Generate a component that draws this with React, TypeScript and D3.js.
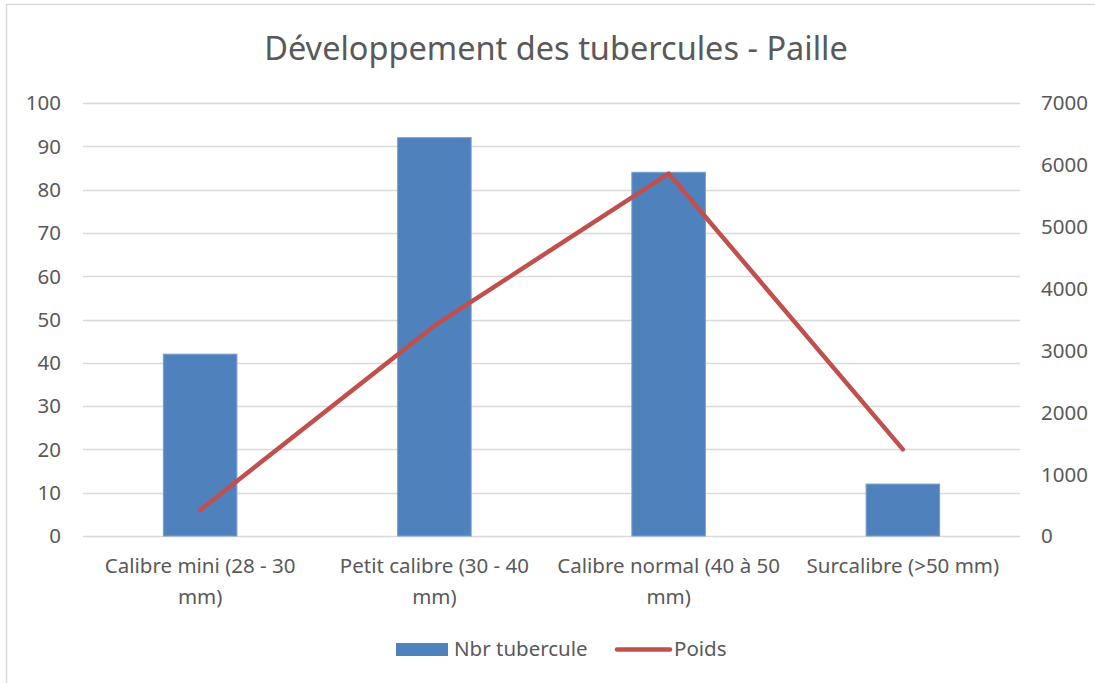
import * as d3 from 'd3';
import { useEffect, useRef } from 'react';

const TITLE = 'Développement des tubercules - Paille';
const categories = [
    ['Calibre mini (28 - 30', 'mm)'],
    ['Petit calibre (30 - 40', 'mm)'],
    ['Calibre normal (40 à 50', 'mm)'],
    ['Surcalibre (>50 mm)'],
];
const nbrTubercule = [42, 92, 84, 12];
const poids = [420, 3400, 5860, 1400];
const leftTicks = d3.range(0, 101, 10);
const rightTicks = d3.range(0, 7001, 1000);

const WIDTH = 1095;
const HEIGHT = 683;
const FONT = '"Noto Sans", "Open Sans", sans-serif';
const TEXT_COLOR = '#595959';
const BAR_COLOR = '#4f81bd';
const LINE_COLOR = '#c0504d';

const App: React.FC = () => {
    const svgRef = useRef<SVGSVGElement | null>(null);

    useEffect(() => {
        if (!svgRef.current) return;
        const svg = d3.select(svgRef.current);
        svg.selectAll('*').remove();

        const plot = { left: 83, right: 1020, top: 103, bottom: 536 };

        // chart frame
        svg.append('rect')
            .attr('x', 6.5)
            .attr('y', 4.5)
            .attr('width', WIDTH + 20)
            .attr('height', HEIGHT + 20)
            .attr('fill', '#fff')
            .attr('stroke', '#d9d9d9')
            .attr('stroke-width', 1.5);

        const x = d3
            .scaleBand<number>()
            .domain(d3.range(categories.length))
            .range([plot.left, plot.right])
            .paddingInner(0.686)
            .paddingOuter(0.343);
        const xCenter = d3
            .scaleBand<number>()
            .domain(d3.range(categories.length))
            .range([plot.left, plot.right]);
        const yLeft = d3.scaleLinear().domain([0, 100]).range([plot.bottom, plot.top]);
        const yRight = d3.scaleLinear().domain([0, 7000]).range([plot.bottom, plot.top]);

        // grid
        svg.append('g')
            .selectAll('line')
            .data(leftTicks)
            .join('line')
            .attr('x1', plot.left)
            .attr('x2', plot.right)
            .attr('y1', (d) => Math.round(yLeft(d)) + 0.5)
            .attr('y2', (d) => Math.round(yLeft(d)) + 0.5)
            .attr('stroke', '#d9d9d9')
            .attr('stroke-width', 1.5);

        // left ticks
        svg.append('g')
            .selectAll('text')
            .data(leftTicks)
            .join('text')
            .attr('x', 61)
            .attr('y', (d) => yLeft(d))
            .attr('dy', '0.36em')
            .attr('text-anchor', 'end')
            .attr('fill', TEXT_COLOR)
            .style('font-family', FONT)
            .style('font-size', '20.5px')
            .text((d) => d);

        // right ticks
        svg.append('g')
            .selectAll('text')
            .data(rightTicks)
            .join('text')
            .attr('x', 1041)
            .attr('y', (d) => yRight(d))
            .attr('dy', '0.36em')
            .attr('text-anchor', 'start')
            .attr('fill', TEXT_COLOR)
            .style('font-family', FONT)
            .style('font-size', '20.5px')
            .text((d) => d);

        // bars
        svg.append('g')
            .selectAll('rect')
            .data(nbrTubercule)
            .join('rect')
            .attr('x', (_, i) => x(i)!)
            .attr('width', x.bandwidth())
            .attr('y', (d) => yLeft(d))
            .attr('height', (d) => plot.bottom - yLeft(d))
            .attr('fill', BAR_COLOR)
            .attr('stroke', '#7a9fd0')
            .attr('stroke-width', 1);

        // line
        const line = d3
            .line<number>()
            .x((_, i) => xCenter(i)! + xCenter.bandwidth() / 2)
            .y((d) => yRight(d));
        svg.append('path')
            .datum(poids)
            .attr('d', line)
            .attr('fill', 'none')
            .attr('stroke', LINE_COLOR)
            .attr('stroke-width', 4.5)
            .attr('stroke-linejoin', 'round')
            .attr('stroke-linecap', 'round');

        // category labels
        const catG = svg.append('g');
        categories.forEach((lines, i) => {
            const t = catG
                .append('text')
                .attr('x', xCenter(i)! + xCenter.bandwidth() / 2)
                .attr('y', 573)
                .attr('text-anchor', 'middle')
                .attr('fill', TEXT_COLOR)
                .style('font-family', FONT)
                .style('font-size', '20.5px');
            lines.forEach((l, j) => {
                t.append('tspan')
                    .attr('x', xCenter(i)! + xCenter.bandwidth() / 2)
                    .attr('dy', j === 0 ? 0 : 31)
                    .text(l);
            });
        });

        // title
        svg.append('text')
            .attr('x', 556)
            .attr('y', 60)
            .attr('text-anchor', 'middle')
            .attr('fill', TEXT_COLOR)
            .style('font-family', FONT)
            .style('font-size', '32.5px')
            .text(TITLE);

        // legend
        const lg = svg.append('g');
        lg.append('rect')
            .attr('x', 396)
            .attr('y', 643)
            .attr('width', 52)
            .attr('height', 13)
            .attr('fill', BAR_COLOR);
        lg.append('text')
            .attr('x', 454)
            .attr('y', 656)
            .attr('fill', TEXT_COLOR)
            .style('font-family', FONT)
            .style('font-size', '20.5px')
            .text('Nbr tubercule');
        lg.append('line')
            .attr('x1', 617)
            .attr('x2', 670)
            .attr('y1', 649.5)
            .attr('y2', 649.5)
            .attr('stroke', LINE_COLOR)
            .attr('stroke-width', 4.5)
            .attr('stroke-linecap', 'round');
        lg.append('text')
            .attr('x', 674)
            .attr('y', 656)
            .attr('fill', TEXT_COLOR)
            .style('font-family', FONT)
            .style('font-size', '20.5px')
            .text('Poids');
    }, []);

    return (
        <svg
            ref={svgRef}
            width={WIDTH}
            height={HEIGHT}
            style={{ position: 'fixed', left: 0, top: 0, display: 'block', background: '#fff' }}
        ></svg>
    );
};

export default App;
